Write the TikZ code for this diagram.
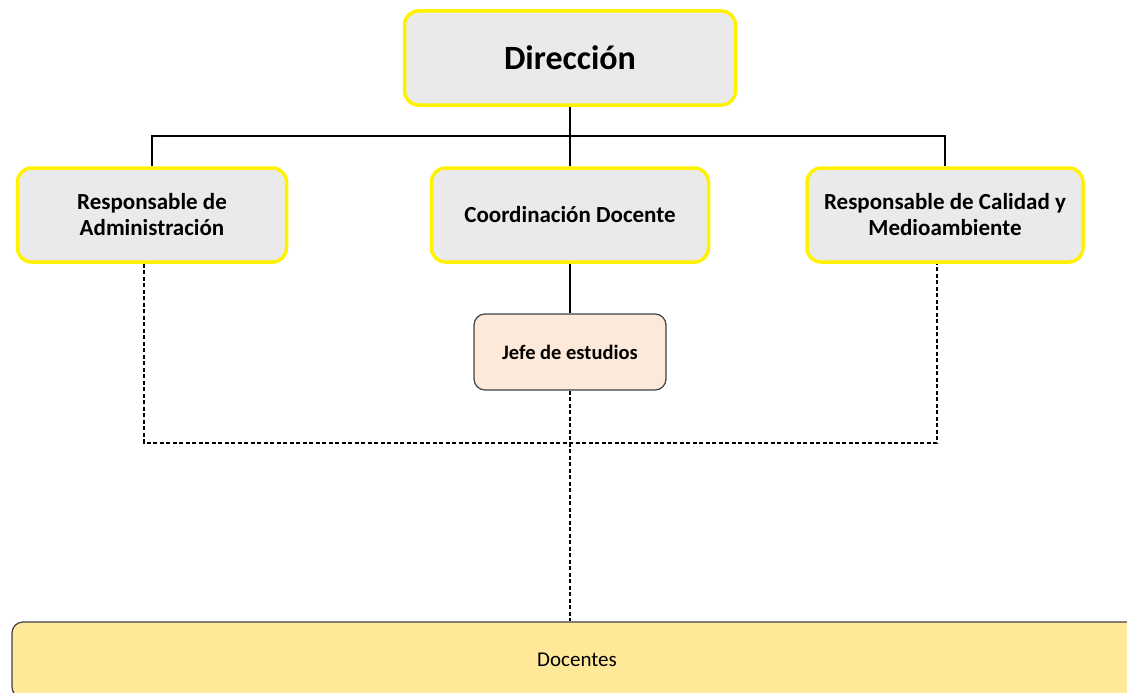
\documentclass[tikz,border=0pt]{standalone}
\usepackage{fontspec}
\setmainfont{Carlito}
\usetikzlibrary{positioning}
\definecolor{boxgray}{HTML}{EAEAEA}
\definecolor{jefefill}{HTML}{FDE9D9}
\definecolor{docfill}{HTML}{FFE999}
\begin{document}
\begin{tikzpicture}[x=1pt,y=-1pt,
	mainbox/.style={draw=yellow, line width=3.5pt, fill=boxgray, rounded corners=14pt, align=center, font=\fontsize{23}{26}\selectfont\bfseries},
	subbox/.style={draw=black!75, line width=1.2pt, rounded corners=11pt, align=center, font=\fontsize{20.5}{23}\selectfont\bfseries},
	link/.style={draw, line width=1.4pt},
	dashlink/.style={draw, line width=1.4pt, dash pattern=on 4pt off 2.5pt}]
	\useasboundingbox (0,0) rectangle (1127,693);
	\clip (0,0) rectangle (1127,693);
		\node[mainbox, minimum width=331pt, minimum height=94pt, font=\fontsize{34}{38}\selectfont\bfseries](dir) at (570,58) {Dirección};
		\node[mainbox, minimum width=269pt, minimum height=94pt](adm) at (152,215) {Responsable de\\Administración};
		\node[mainbox, minimum width=277pt, minimum height=94pt](coord) at (570,215) {Coordinación Docente};
		\node[mainbox, minimum width=276pt, minimum height=94pt](cal) at (945,215) {Responsable de Calidad y\\Medioambiente};
		\node[subbox, fill=jefefill, minimum width=192pt, minimum height=76pt](jefe) at (570,352) {Jefe de estudios};
		\node[subbox, fill=docfill, minimum width=1130pt, minimum height=76pt, font=\fontsize{21}{23}\selectfont](doc) at (577,660) {Docentes};
		\coordinate (hb) at (570,136);
		\coordinate (jn) at (570,443);
	% solid lines
		\path[link] (dir.south) -- (coord.north);
		\path[link] (adm.north) |- (hb) -| (cal.north);
		\path[link] (coord.south) -- (jefe.north);
	% dashed lines
		\path[dashlink] ([xshift=-8pt]adm.south) |- (jn) -| ([xshift=-8pt]cal.south);
		\path[dashlink] (jefe.south) -- (jefe.south |- doc.north);
\end{tikzpicture}
\end{document}
